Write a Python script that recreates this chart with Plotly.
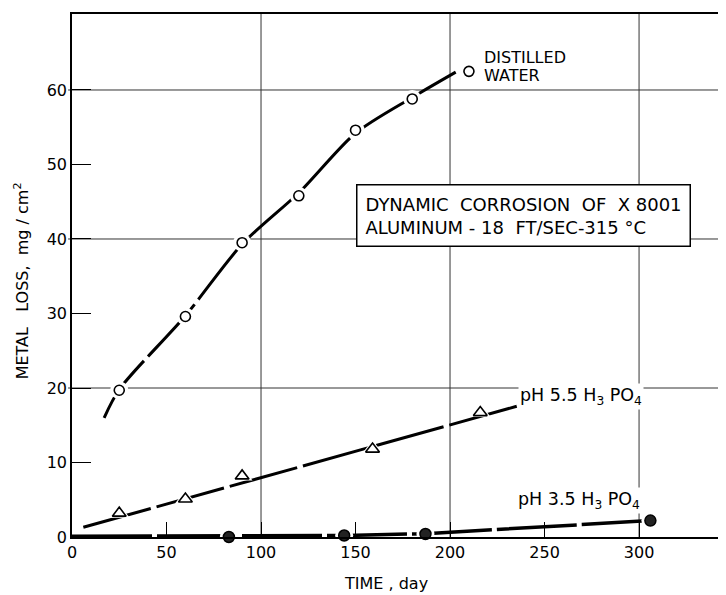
import plotly.graph_objects as go

# ---- data ----
water_x = [25, 60, 90, 120, 150, 180, 210]
water_y = [19.7, 29.6, 39.5, 45.8, 54.6, 58.8, 62.5]
water_fit_x = [17, 25, 60, 90, 120, 150, 180, 203]
water_fit_y = [16.0, 19.8, 29.7, 39.3, 46.2, 54.2, 59.0, 62.4]

ph55_x = [25, 60, 90, 159, 216]
ph55_y = [3.2, 5.1, 8.2, 11.8, 16.7]
ph55_fit_x = [6, 236]
ph55_fit_y = [1.3, 17.6]

ph35_x = [29, 83, 144, 187, 306]
ph35_y = [-0.1, 0.0, 0.2, 0.4, 2.2]
ph35_fit_x = [0, 145, 187, 306]
ph35_fit_y = [0.1, 0.2, 0.45, 2.2]

x_ticks = [0, 50, 100, 150, 200, 250, 300]
y_ticks = [0, 10, 20, 30, 40, 50, 60]
x_grid = [100, 200, 300]
y_grid = [20, 40, 60]

FONT = "DejaVu Sans"

fig = go.Figure()

# fitted curves
fig.add_trace(go.Scatter(x=water_fit_x, y=water_fit_y, mode="lines",
                         line=dict(color="black", width=3, shape="spline", smoothing=0.8,
                                   dash="70px,6px"),
                         hoverinfo="skip"))
fig.add_trace(go.Scatter(x=ph55_fit_x, y=ph55_fit_y, mode="lines",
                         line=dict(color="black", width=3, dash="70px,6px"), hoverinfo="skip"))
fig.add_trace(go.Scatter(x=ph35_fit_x, y=ph35_fit_y, mode="lines",
                         line=dict(color="black", width=3.5, dash="80px,5px"), hoverinfo="skip"))

# white halos giving gaps around markers
for xs, ys, sym in [(water_x, water_y, "circle"), (ph55_x, ph55_y, "triangle-up"),
                    (ph35_x, ph35_y, "circle")]:
    fig.add_trace(go.Scatter(x=xs, y=ys, mode="markers", cliponaxis=False,
                             marker=dict(symbol=sym, size=18, color="white",
                                         line=dict(width=0)), hoverinfo="skip"))

# data markers
fig.add_trace(go.Scatter(x=water_x, y=water_y, mode="markers", cliponaxis=False,
                         marker=dict(symbol="circle", size=10, color="white",
                                     line=dict(color="black", width=1.6))))
fig.add_trace(go.Scatter(x=ph55_x, y=ph55_y, mode="markers", cliponaxis=False,
                         marker=dict(symbol="triangle-up", size=12, color="white",
                                     line=dict(color="black", width=1.6))))
fig.add_trace(go.Scatter(x=ph35_x, y=ph35_y, mode="markers", cliponaxis=False,
                         marker=dict(symbol="circle", size=11, color="#222",
                                     line=dict(color="black", width=1.5))))

shapes = []
for gx in x_grid:
    shapes.append(dict(type="line", xref="x", yref="paper", x0=gx, x1=gx, y0=0, y1=1,
                       line=dict(color="#333", width=1), layer="below"))
for gy in y_grid:
    shapes.append(dict(type="line", xref="paper", yref="y", x0=-0.006, x1=1, y0=gy, y1=gy,
                       line=dict(color="#333", width=1), layer="below"))

annotations = [
    dict(x=217, y=64.4, xref="x", yref="y", xanchor="left", yanchor="middle",
         text="DISTILLED", showarrow=False, align="left",
         font=dict(family=FONT, size=16, color="black")),
    dict(x=217, y=62.0, xref="x", yref="y", xanchor="left", yanchor="middle",
         text="WATER", showarrow=False, align="left",
         font=dict(family=FONT, size=16, color="black")),
    dict(x=238.6, y=43.2, xref="x", yref="y", xanchor="center", yanchor="middle",
         text="DYNAMIC  CORROSION  OF  X 8001<br>ALUMINUM - 18  FT/SEC-315 °C",
         showarrow=False, align="left", bgcolor="white", bordercolor="black",
         borderwidth=1.5, borderpad=8,
         font=dict(family=FONT, size=18, color="black")),
    dict(x=236, y=18.9, xref="x", yref="y", xanchor="left", yanchor="middle",
         text="pH 5.5 H<sub>3</sub> PO<sub>4</sub>", showarrow=False, bgcolor="white",
         font=dict(family=FONT, size=17.5, color="black")),
    dict(x=235, y=4.9, xref="x", yref="y", xanchor="left", yanchor="middle",
         text="pH 3.5 H<sub>3</sub> PO<sub>4</sub>", showarrow=False, bgcolor="white",
         font=dict(family=FONT, size=17.5, color="black")),
    dict(x=166, y=-0.088, xref="x", yref="paper", xanchor="center", yanchor="middle",
         text="TIME , day", showarrow=False,
         font=dict(family=FONT, size=16, color="black")),
    dict(x=-0.077, y=0.49, xref="paper", yref="paper", xanchor="center", yanchor="middle",
         text="METAL   LOSS,  mg / cm<sup>2</sup>", showarrow=False, textangle=-90,
         font=dict(family=FONT, size=16, color="black")),
]

fig.update_layout(
    width=726, height=595,
    margin=dict(l=64, r=8, t=6, b=66),
    paper_bgcolor="white", plot_bgcolor="white",
    showlegend=False,
    shapes=shapes, annotations=annotations,
    font=dict(family=FONT, color="black"),
)
fig.update_xaxes(range=[0, 346], tickvals=x_ticks, ticktext=[str(v) for v in x_ticks],
                 ticks="inside", ticklen=15, tickwidth=1.2, tickcolor="black",
                 showgrid=False, zeroline=False, showline=True, linecolor="black",
                 linewidth=1.5, mirror=True, automargin=False,
                 tickfont=dict(family=FONT, size=16))
fig.update_yaxes(range=[0, 70.2], tickvals=y_ticks, ticktext=[str(v) for v in y_ticks],
                 ticks="inside", ticklen=19, tickwidth=1.2, tickcolor="black",
                 showgrid=False, zeroline=False, showline=True, linecolor="black",
                 linewidth=1.5, automargin=False,
                 tickfont=dict(family=FONT, size=16))

fig.write_html("out.html")
